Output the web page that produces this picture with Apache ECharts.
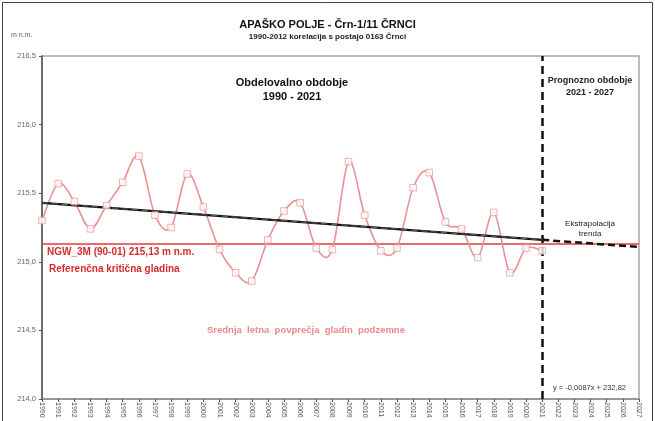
<!DOCTYPE html>
<html>
<head>
<meta charset="utf-8">
<script src="https://cdn.jsdelivr.net/npm/echarts@6/dist/echarts.min.js"></script>
<style>
  html, body { margin: 0; padding: 0; background: #fff; }
  #chart { width: 655px; height: 421px; }
</style>
</head>
<body>
<div id="chart"></div>
<script>
// Years of observation and mean annual groundwater levels (m n.m.)
const years = [1990, 1991, 1992, 1993, 1994, 1995, 1996, 1997, 1998, 1999,
               2000, 2001, 2002, 2003, 2004, 2005, 2006, 2007, 2008, 2009,
               2010, 2011, 2012, 2013, 2014, 2015, 2016, 2017, 2018, 2019,
               2020, 2021];
const levels = [215.30, 215.57, 215.44, 215.24, 215.41, 215.58, 215.77, 215.34, 215.25, 215.64,
                215.40, 215.09, 214.92, 214.86, 215.16, 215.37, 215.43, 215.10, 215.09, 215.73,
                215.34, 215.08, 215.10, 215.54, 215.65, 215.29, 215.24, 215.03, 215.36, 214.92,
                215.10, 215.08];

// Linear trend: fitted part and extrapolation
const trendYears = [1990, 2021];
const trendValues = [215.43, 215.16];
const extrapYears = [2021, 2027];
const extrapValues = [215.16, 215.108];

// Reference critical level NGW_3M (90-01)
const criticalLevel = 215.13;
const forecastStart = 2021;

// Axis bounds
const xMin = 1990, xMax = 2027;
const yMin = 214.0, yMax = 216.5, yStep = 0.5;

const pink = '#e89294';
const red = '#e03a3a';
const fontFam = '"Liberation Sans", Arial, sans-serif';

const chart = echarts.init(document.getElementById('chart'), null, { renderer: 'canvas' });

// Smooth curve through the yearly levels (Catmull-Rom segments as cubic Beziers)
function renderSmoothLevels(params, api) {
  if (params.dataIndex !== 0) return null;
  const pts = years.map((y, i) => api.coord([y, levels[i]]));
  const children = [];
  for (let i = 0; i < pts.length - 1; i++) {
    const p0 = pts[i - 1] || pts[i];
    const p1 = pts[i];
    const p2 = pts[i + 1];
    const p3 = pts[i + 2] || pts[i + 1];
    children.push({
      type: 'bezierCurve',
      shape: {
        x1: p1[0], y1: p1[1],
        cpx1: p1[0] + (p2[0] - p0[0]) / 6, cpy1: p1[1] + (p2[1] - p0[1]) / 6,
        cpx2: p2[0] - (p3[0] - p1[0]) / 6, cpy2: p2[1] - (p3[1] - p1[1]) / 6,
        x2: p2[0], y2: p2[1]
      },
      style: { fill: 'none', stroke: pink, lineWidth: 1.6 }
    });
  }
  return { type: 'group', children: children };
}

const option = {
  backgroundColor: '#fff',
  animation: false,
  grid: { left: 42, right: 16, top: 56, bottom: 22, show: true, borderColor: '#a6a6a6', borderWidth: 1.5, backgroundColor: 'transparent' },
  xAxis: {
    type: 'value', min: xMin, max: xMax, interval: 1,
    axisLine: { show: true, onZero: false, lineStyle: { color: '#8a8a8a', width: 1.5 } },
    axisTick: { show: true, length: 3, lineStyle: { color: '#555' } },
    splitLine: { show: false },
    axisLabel: {
      rotate: -90, margin: 3, fontSize: 7, color: '#555', fontFamily: fontFam,
      formatter: v => String(Math.round(v))
    }
  },
  yAxis: {
    type: 'value', min: yMin, max: yMax, interval: yStep,
    axisLine: { show: true, onZero: false, lineStyle: { color: '#555', width: 1.5 } },
    axisTick: { show: true, length: 3, lineStyle: { color: '#555' } },
    splitLine: { show: false },
    axisLabel: {
      margin: 6, fontSize: 7.5, color: '#666', fontFamily: fontFam,
      formatter: v => v.toFixed(1).replace('.', ',')
    }
  },
  series: [
    {
      name: 'NGW_3M', type: 'line', silent: true, symbol: 'none',
      data: [[xMin, criticalLevel], [xMax, criticalLevel]],
      lineStyle: { color: red, width: 1.5 }, z: 2
    },
    {
      name: 'trend', type: 'line', silent: true, symbol: 'none',
      data: trendYears.map((y, i) => [y, trendValues[i]]),
      lineStyle: { color: '#111', width: 2.2 }, z: 4
    },
    {
      name: 'trend-dash', type: 'line', silent: true, symbol: 'none',
      data: trendYears.map((y, i) => [y, trendValues[i]]),
      lineStyle: { color: '#666', width: 1, type: [6, 4] }, z: 5
    },
    {
      name: 'extrapolation', type: 'line', silent: true, symbol: 'none',
      data: extrapYears.map((y, i) => [y, extrapValues[i]]),
      lineStyle: { color: '#111', width: 2.5, type: [7, 4] }, z: 4
    },
    {
      name: 'levels-curve', type: 'custom', silent: true, z: 3,
      data: years.map((y, i) => [y, levels[i]]),
      encode: { x: 0, y: 1 },
      renderItem: renderSmoothLevels
    },
    {
      name: 'levels', type: 'scatter', silent: true, z: 6,
      data: years.map((y, i) => [y, levels[i]]),
      symbol: 'rect', symbolSize: 6.5,
      itemStyle: { color: '#fff', borderColor: '#eb9a9c', borderWidth: 1 },
      markLine: {
        silent: true, symbol: 'none', label: { show: false },
        lineStyle: { color: '#111', width: 2.5, type: [8, 5] },
        data: [{ xAxis: forecastStart }]
      }
    }
  ],
  graphic: [
    { type: 'rect', shape: { x: 2.5, y: 2.5, width: 650, height: 430 }, style: { fill: 'none', stroke: '#444', lineWidth: 1 }, silent: true },
    { type: 'text', left: 'center', top: 19, style: { text: 'APAŠKO POLJE - Črn-1/11 ČRNCI', font: 'bold 11px ' + fontFam, fill: '#111' } },
    { type: 'text', left: 'center', top: 33, style: { text: '1990-2012 korelacija s postajo 0163 Črnci', font: 'bold 8px ' + fontFam, fill: '#222' } },
    { type: 'text', x: 11, y: 32, style: { text: 'm n.m.', font: '7px ' + fontFam, fill: '#666' } },
    { type: 'text', x: 292, y: 76, style: { text: 'Obdelovalno obdobje\n1990 - 2021', font: 'bold 11px ' + fontFam, fill: '#111', align: 'center', lineHeight: 14 } },
    { type: 'text', x: 590, y: 75, style: { text: 'Prognozno obdobje\n2021 - 2027', font: 'bold 9px ' + fontFam, fill: '#222', align: 'center', lineHeight: 12 } },
    { type: 'text', x: 590, y: 219, style: { text: 'Ekstrapolacija\ntrenda', font: '8px ' + fontFam, fill: '#222', align: 'center', lineHeight: 10 } },
    { type: 'text', x: 47, y: 247, style: { text: 'NGW_3M (90-01) 215,13 m n.m.', font: 'bold 10px ' + fontFam, fill: '#d42c2c' } },
    { type: 'text', x: 49, y: 264, style: { text: 'Referenčna kritična gladina', font: 'bold 10px ' + fontFam, fill: '#d42c2c' } },
    { type: 'text', x: 207, y: 325, style: { text: 'Srednja  letna  povprečja  gladin  podzemne', font: 'bold 9.5px ' + fontFam, fill: '#eb8a8c' } },
    { type: 'text', x: 553, y: 384, style: { text: 'y = -0,0087x + 232,82', font: '7.5px ' + fontFam, fill: '#333' } }
  ]
};

chart.setOption(option);
</script>
</body>
</html>
